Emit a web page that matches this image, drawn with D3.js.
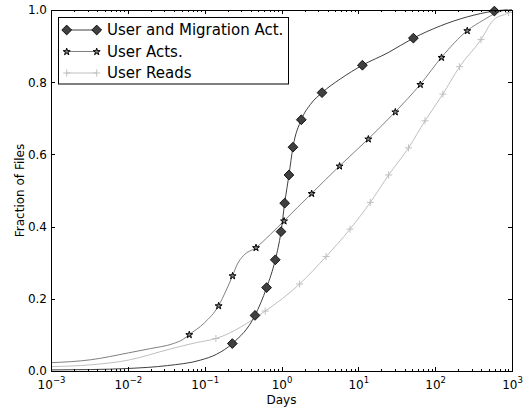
<!DOCTYPE html>
<html>
<head>
<meta charset="utf-8">
<script src="https://cdn.jsdelivr.net/npm/d3@7"></script>
<style>
  html, body { margin: 0; padding: 0; background: #fff; }
  svg { display: block; font-family: "DejaVu Sans", sans-serif; }
</style>
</head>
<body>
<svg id="chart" width="529" height="408"></svg>
<script>
// ---- data: cumulative fraction of files vs. age in days ----
// User and Migration Act.: marked samples and extra curve samples
const umMarkDays = [0.229, 0.452, 0.640, 0.830, 0.986, 1.10, 1.25, 1.41, 1.81, 3.37, 11.3, 52.0, 589];
const umMarkFrac = [0.076, 0.154, 0.231, 0.308, 0.386, 0.465, 0.543, 0.620, 0.696, 0.771, 0.847, 0.922, 0.997];
const umCurveDays = [0.001, 0.00325, 0.0101, 0.0327, 0.0877, 0.1416, 2.37, 5.83, 24.5, 117, 262, 818, 1000];
const umCurveFrac = [0.003, 0.004, 0.007, 0.015, 0.030, 0.046, 0.738, 0.809, 0.882, 0.956, 0.981, 1.0, 1.0];

// User Acts.
const uaMarkDays = [0.0631, 0.152, 0.231, 0.466, 1.08, 2.47, 5.70, 13.5, 30.3, 64.1, 121, 262];
const uaMarkFrac = [0.101, 0.181, 0.264, 0.342, 0.416, 0.492, 0.568, 0.643, 0.718, 0.794, 0.869, 0.943];
const uaCurveDays = [0.001, 0.00325, 0.0101, 0.0196, 0.0391, 0.0527, 0.0989, 0.191, 0.266, 0.318, 0.714, 1.63, 424, 644, 869, 1000];
const uaCurveFrac = [0.023, 0.031, 0.050, 0.062, 0.076, 0.088, 0.133, 0.224, 0.296, 0.319, 0.378, 0.454, 0.972, 0.993, 1.0, 1.0];

// User Reads
const urMarkDays = [0.140, 0.615, 1.72, 3.80, 7.80, 14.3, 24.8, 45.0, 73.8, 126, 208, 395, 903];
const urMarkFrac = [0.090, 0.166, 0.241, 0.317, 0.393, 0.467, 0.543, 0.618, 0.693, 0.767, 0.843, 0.918, 0.993];
const urCurveDays = [0.001, 0.00325, 0.0101, 0.0357, 0.0755, 571, 1000];
const urCurveFrac = [0.012, 0.017, 0.030, 0.061, 0.078, 0.972, 1.0];

const seriesNames = ["User and Migration Act.", "User Acts.", "User Reads"];
const xTickExponents = [-3, -2, -1, 0, 1, 2, 3];
const yTickValues = [0.0, 0.2, 0.4, 0.6, 0.8, 1.0];
const xLabel = "Days";
const yLabel = "Fraction of Files";

// ---- layout ----
const svg = d3.select("#chart");
const pLeft = 51, pRight = 512, pTop = 10, pBottom = 371;
const x = d3.scaleLog().domain([1e-3, 1e3]).range([pLeft, pRight]);
const y = d3.scaleLinear().domain([0, 1]).range([pBottom, pTop]);

const styles = [
  { line: "#404040", marker: "diamond", fill: "#404040", edge: "#000" },
  { line: "#808080", marker: "star", fill: "#808080", edge: "#000" },
  { line: "#bfbfbf", marker: "plus", fill: "none", edge: "#bfbfbf" }
];

function merge(md, mf, cd, cf) {
  const pts = md.map((d, i) => [d, mf[i]]).concat(cd.map((d, i) => [d, cf[i]]));
  pts.sort((a, b) => a[0] - b[0]);
  return pts;
}
const series = [
  { name: seriesNames[0], curve: merge(umMarkDays, umMarkFrac, umCurveDays, umCurveFrac), marks: umMarkDays.map((d, i) => [d, umMarkFrac[i]]) },
  { name: seriesNames[1], curve: merge(uaMarkDays, uaMarkFrac, uaCurveDays, uaCurveFrac), marks: uaMarkDays.map((d, i) => [d, uaMarkFrac[i]]) },
  { name: seriesNames[2], curve: merge(urMarkDays, urMarkFrac, urCurveDays, urCurveFrac), marks: urMarkDays.map((d, i) => [d, urMarkFrac[i]]) }
];

function drawMarker(g, kind, st, cx, cy) {
  if (kind === "diamond") {
    g.append("path")
      .attr("d", d3.symbol(d3.symbolSquare, 48)())
      .attr("transform", `translate(${cx},${cy}) rotate(45)`)
      .attr("fill", st.fill).attr("stroke", st.edge).attr("stroke-width", 0.8);
  } else if (kind === "star") {
    g.append("path")
      .attr("d", d3.symbol(d3.symbolStar, 15)())
      .attr("transform", `translate(${cx},${cy + 0.3})`)
      .attr("fill", st.fill).attr("stroke", st.edge).attr("stroke-width", 1);
  } else {
    const r = 3.5;
    g.append("path")
      .attr("d", `M${cx - r},${cy}H${cx + r}M${cx},${cy - r}V${cy + r}`)
      .attr("stroke", st.edge).attr("stroke-width", 1).attr("fill", "none");
  }
}

svg.append("clipPath").attr("id", "plotclip")
  .append("rect").attr("x", pLeft).attr("y", pTop - 6).attr("width", pRight - pLeft).attr("height", pBottom - pTop + 6);

const line = d3.line().x(d => x(d[0])).y(d => y(d[1])).curve(d3.curveMonotoneX);

// draw lighter series first so darker ones sit on top
const order = [2, 1, 0];
const plot = svg.append("g");
order.forEach(i => {
  const s = series[i], st = styles[i];
  plot.append("path").datum(s.curve)
    .attr("d", line).attr("fill", "none")
    .attr("stroke", st.line).attr("stroke-width", 1)
    .attr("clip-path", "url(#plotclip)");
});
order.forEach(i => {
  const s = series[i], st = styles[i];
  const g = plot.append("g");
  s.marks.forEach(d => drawMarker(g, st.marker, st, x(d[0]), y(d[1])));
});

// ---- axes: inward ticks on all four sides ----
const majors = xTickExponents.map(e => Math.pow(10, e));
const minors = [];
for (let e = -3; e < 3; e++) for (let k = 2; k <= 9; k++) minors.push(k * Math.pow(10, e));

const axBottom = svg.append("g").attr("transform", `translate(0,${pBottom})`)
  .call(d3.axisBottom(x).tickValues(majors).tickSizeInner(-4).tickSizeOuter(0).tickPadding(8));
svg.append("g").attr("transform", `translate(0,${pBottom})`)
  .call(d3.axisBottom(x).tickValues(minors).tickSizeInner(-2).tickSizeOuter(0).tickFormat(""));
svg.append("g").attr("transform", `translate(0,${pTop})`)
  .call(d3.axisTop(x).tickValues(majors).tickSizeInner(-4).tickSizeOuter(0).tickFormat(""));
svg.append("g").attr("transform", `translate(0,${pTop})`)
  .call(d3.axisTop(x).tickValues(minors).tickSizeInner(-2).tickSizeOuter(0).tickFormat(""));
const axLeft = svg.append("g").attr("transform", `translate(${pLeft},0)`)
  .call(d3.axisLeft(y).tickValues(yTickValues).tickSizeInner(-4).tickSizeOuter(0).tickPadding(4).tickFormat(d3.format(".1f")));
svg.append("g").attr("transform", `translate(${pRight},0)`)
  .call(d3.axisRight(y).tickValues(yTickValues).tickSizeInner(-4).tickSizeOuter(0).tickFormat(""));

svg.selectAll(".domain").remove();
svg.selectAll(".tick line").attr("stroke", "#000").attr("shape-rendering", "crispEdges");

axLeft.selectAll("text").attr("font-size", 12).attr("fill", "#000")
  .attr("font-family", "DejaVu Sans");

axBottom.selectAll(".tick text").each(function (d) {
  const t = d3.select(this);
  t.text(null).attr("font-size", 12).attr("fill", "#000").attr("font-family", "DejaVu Sans")
    .attr("dy", null).attr("y", 17.5);
  t.append("tspan").text("10");
  t.append("tspan").attr("font-size", 8.5).attr("dy", -5.5).text(String(Math.round(Math.log10(d))).replace("-", "\u2212"));
});

// frame
svg.append("rect").attr("x", pLeft).attr("y", pTop).attr("width", pRight - pLeft).attr("height", pBottom - pTop)
  .attr("fill", "none").attr("stroke", "#000").attr("stroke-width", 1).attr("shape-rendering", "crispEdges");

// axis titles
svg.append("text").attr("x", (pLeft + pRight) / 2).attr("y", 404).attr("text-anchor", "middle")
  .attr("font-size", 12).text(xLabel);
svg.append("text").attr("transform", `translate(24,${(pTop + pBottom) / 2}) rotate(-90)`)
  .attr("text-anchor", "middle").attr("font-size", 12).text(yLabel);

// ---- legend ----
const lg = svg.append("g");
lg.append("rect").attr("x", 58.5).attr("y", 17.5).attr("width", 230).attr("height", 66.5)
  .attr("fill", "#fff").attr("stroke", "#000").attr("stroke-width", 1);
series.forEach((s, i) => {
  const st = styles[i];
  const ry = 30 + i * 21.5;
  lg.append("line").attr("x1", 66.7).attr("x2", 96.7).attr("y1", ry).attr("y2", ry)
    .attr("stroke", st.line).attr("stroke-width", 1);
  drawMarker(lg, st.marker, st, 66.7, ry);
  drawMarker(lg, st.marker, st, 96.7, ry);
  lg.append("text").attr("x", 107).attr("y", ry + 5.3).attr("font-size", 15).attr("fill", "#000").text(s.name);
});
</script>
</body>
</html>
